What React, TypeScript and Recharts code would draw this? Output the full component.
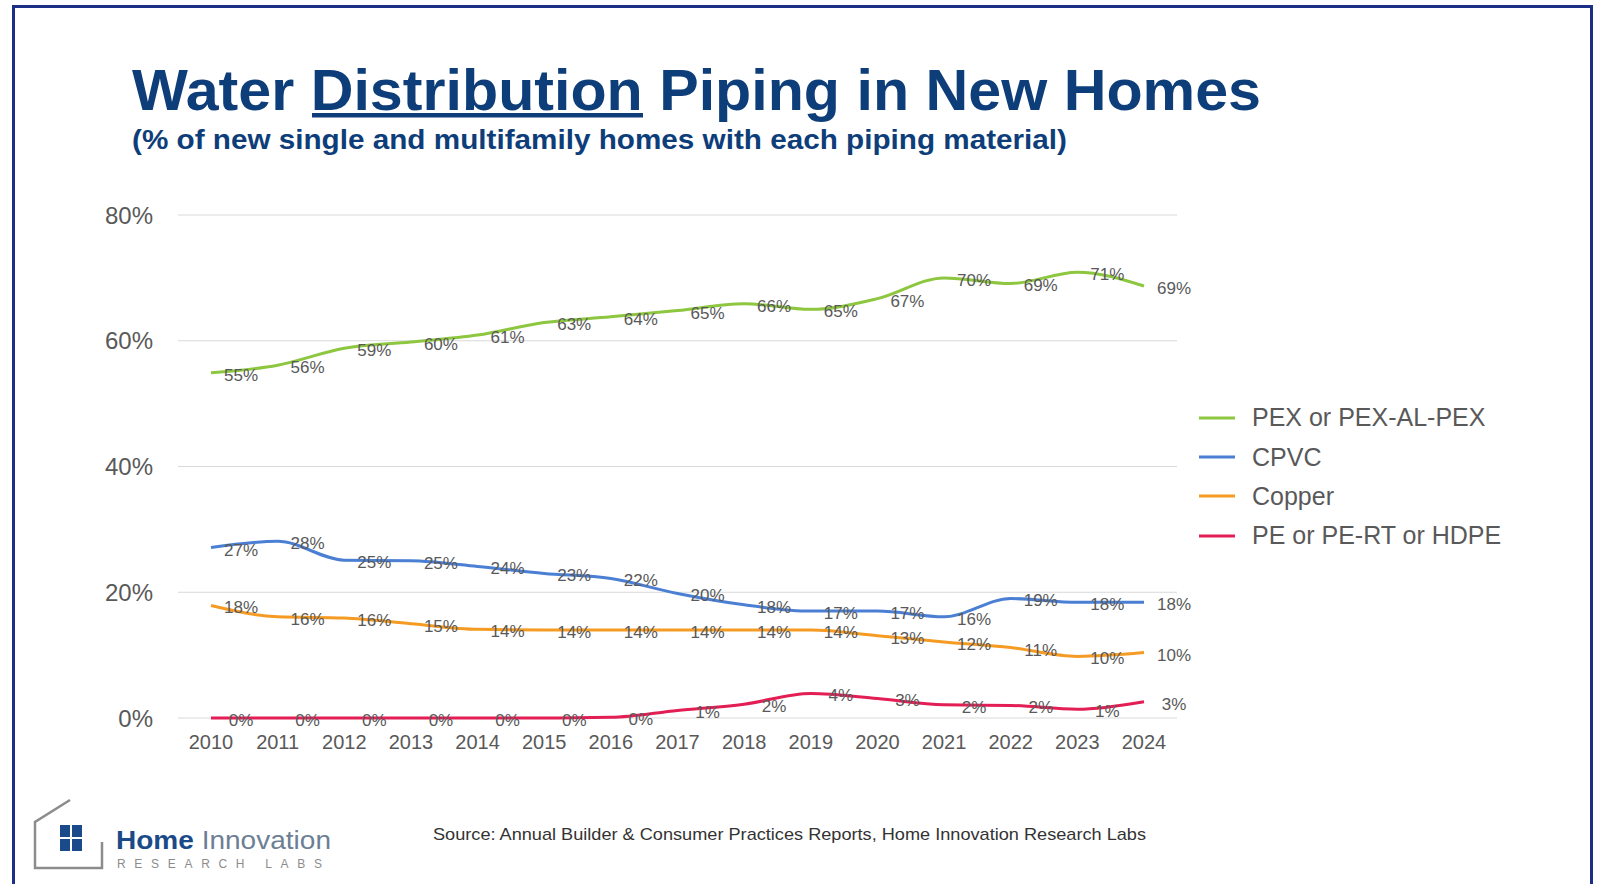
import { LineChart, Line, XAxis, YAxis, CartesianGrid, Legend, LabelList } from "recharts";

const years = ["2010", "2011", "2012", "2013", "2014", "2015", "2016", "2017", "2018", "2019", "2020", "2021", "2022", "2023", "2024"];
const pex = [54.9, 56.1, 58.8, 59.8, 60.9, 62.9, 63.8, 64.8, 65.9, 65.0, 66.7, 70.0, 69.1, 70.9, 68.7];
const cpvc = [27.1, 28.1, 25.1, 25.0, 24.1, 23.0, 22.2, 19.8, 18.0, 17.0, 17.0, 16.1, 19.0, 18.4, 18.4];
const copper = [17.9, 16.1, 15.9, 15.0, 14.1, 14.0, 14.0, 14.0, 14.0, 14.0, 13.1, 12.1, 11.2, 9.8, 10.4];
const pe = [0, 0, 0, 0, 0, 0, 0.1, 1.2, 2.2, 3.9, 3.1, 2.1, 2.0, 1.4, 2.6];
const yTicks = [0, 20, 40, 60, 80];

const seriesOrder = ["PEX or PEX-AL-PEX", "CPVC", "Copper", "PE or PE-RT or HDPE"];

const data = years.map((year, i) => ({
  year,
  pex: pex[i],
  cpvc: cpvc[i],
  copper: copper[i],
  pe: pe[i],
}));

const FONT = '"Liberation Sans", Arial, sans-serif';
const GRAY = "#595959";

// value labels sit a bit to the right of each point
const PctLabel = (props: any) => {
  const { x, y, value } = props;
  if (x == null || y == null) return null;
  return (
    <text x={x + 30} y={y + 2} dy="0.35em" textAnchor="middle" fontSize={17} fill={GRAY} fontFamily={FONT}>
      {Math.round(value)}%
    </text>
  );
};

const LegendBox = ({ payload }: any) => {
  const items = [...(payload || [])].sort(
    (a: any, b: any) => seriesOrder.indexOf(a.value) - seriesOrder.indexOf(b.value)
  );
  return (
    <div style={{ fontFamily: FONT }}>
      {items.map((p: any) => (
        <div key={p.value} style={{ display: "flex", alignItems: "center", height: 39.4 }}>
          <svg width={36} height={6}>
            <line x1={0} y1={3} x2={36} y2={3} stroke={p.color} strokeWidth={3} />
          </svg>
          <span style={{ marginLeft: 17, fontSize: 25, color: GRAY, whiteSpace: "nowrap" }}>{p.value}</span>
        </div>
      ))}
    </div>
  );
};

export default function App() {
  return (
    <div style={{ position: "absolute", left: 0, top: 0, width: 1598, height: 884, background: "#fff", overflow: "hidden" }}>
      <div
        style={{
          position: "absolute",
          left: 12,
          top: 5,
          width: 1575,
          height: 900,
          borderTop: "3px solid #1b2f86",
          borderLeft: "3px solid #1b2f86",
          borderRight: "3px solid #1b2f86",
        }}
      />
      <div style={{ position: "absolute", left: 0, top: 0 }}>
        <LineChart width={1598} height={884} data={data} margin={{ top: 215, right: 421, bottom: 126, left: 98 }}>
          <CartesianGrid vertical={false} stroke="#d9d9d9" />
          <XAxis
            dataKey="year"
            height={40}
            interval={0}
            padding={{ left: 33, right: 33 }}
            tickLine={false}
            axisLine={false}
            tickMargin={11}
            tick={{ fill: GRAY, fontSize: 20, fontFamily: FONT }}
          />
          <YAxis
            width={80}
            domain={[0, 80]}
            ticks={yTicks}
            tickLine={false}
            axisLine={false}
            tickMargin={19}
            tickFormatter={(v: number) => `${v}%`}
            tick={{ fill: GRAY, fontSize: 24, fontFamily: FONT }}
          />
          <Legend
            layout="vertical"
            align="center"
            verticalAlign="middle"
            wrapperStyle={{ left: 1199, top: 398, width: 380 }}
            content={<LegendBox />}
          />
          <Line name="PEX or PEX-AL-PEX" type="monotone" dataKey="pex" stroke="#8dc63f" strokeWidth={3} dot={false} isAnimationActive={false}>
            <LabelList dataKey="pex" content={<PctLabel />} />
          </Line>
          <Line name="CPVC" type="monotone" dataKey="cpvc" stroke="#4a7fd4" strokeWidth={3} dot={false} isAnimationActive={false}>
            <LabelList dataKey="cpvc" content={<PctLabel />} />
          </Line>
          <Line name="Copper" type="monotone" dataKey="copper" stroke="#f59b23" strokeWidth={3} dot={false} isAnimationActive={false}>
            <LabelList dataKey="copper" content={<PctLabel />} />
          </Line>
          <Line name="PE or PE-RT or HDPE" type="monotone" dataKey="pe" stroke="#e21e55" strokeWidth={3} dot={false} isAnimationActive={false}>
            <LabelList dataKey="pe" content={<PctLabel />} />
          </Line>
        </LineChart>
      </div>

      {/* title block */}
      <svg width={1598} height={170} style={{ position: "absolute", left: 0, top: 0, pointerEvents: "none" }}>
        <text x={132} y={110} fontSize={57} fontWeight="bold" fill="#0e3e7a" fontFamily={FONT} textLength={1129} lengthAdjust="spacingAndGlyphs">
          Water Distribution Piping in New Homes
        </text>
        <rect x={312} y={113} width={331} height={4.5} fill="#0e3e7a" />
        <text x={132} y={149} fontSize={28} fontWeight="bold" fill="#0e3e7a" fontFamily={FONT} textLength={935} lengthAdjust="spacingAndGlyphs">
          (% of new single and multifamily homes with each piping material)
        </text>
      </svg>

      {/* footer: logo + source */}
      <svg width={1598} height={110} style={{ position: "absolute", left: 0, top: 774, pointerEvents: "none" }}>
        <g transform="translate(0,-774)">
          <path d="M70 800 L35 822 L35 868 L102 868 L102 842" fill="none" stroke="#8c8c8c" strokeWidth={2.5} />
          <rect x={60} y={825} width={10} height={12} fill="#1a4a8a" />
          <rect x={72} y={825} width={10} height={12} fill="#1a4a8a" />
          <rect x={60} y={839} width={10} height={12} fill="#1a4a8a" />
          <rect x={72} y={839} width={10} height={12} fill="#1a4a8a" />
          <text x={116} y={849} fontSize={25} fontFamily={FONT} textLength={215} lengthAdjust="spacingAndGlyphs">
            <tspan fontWeight="bold" fill="#1b4a89">Home</tspan>
            <tspan fill="#6d7f95"> Innovation</tspan>
          </text>
          <text x={117} y={868} fontSize={12} fill="#8c8c8c" fontFamily={FONT} textLength={205} lengthAdjust="spacing">
            RESEARCH LABS
          </text>
          <text x={433} y={840} fontSize={17} fill="#333" fontFamily={FONT} textLength={713} lengthAdjust="spacingAndGlyphs">
            Source: Annual Builder &amp; Consumer Practices Reports, Home Innovation Research Labs
          </text>
        </g>
      </svg>
    </div>
  );
}
